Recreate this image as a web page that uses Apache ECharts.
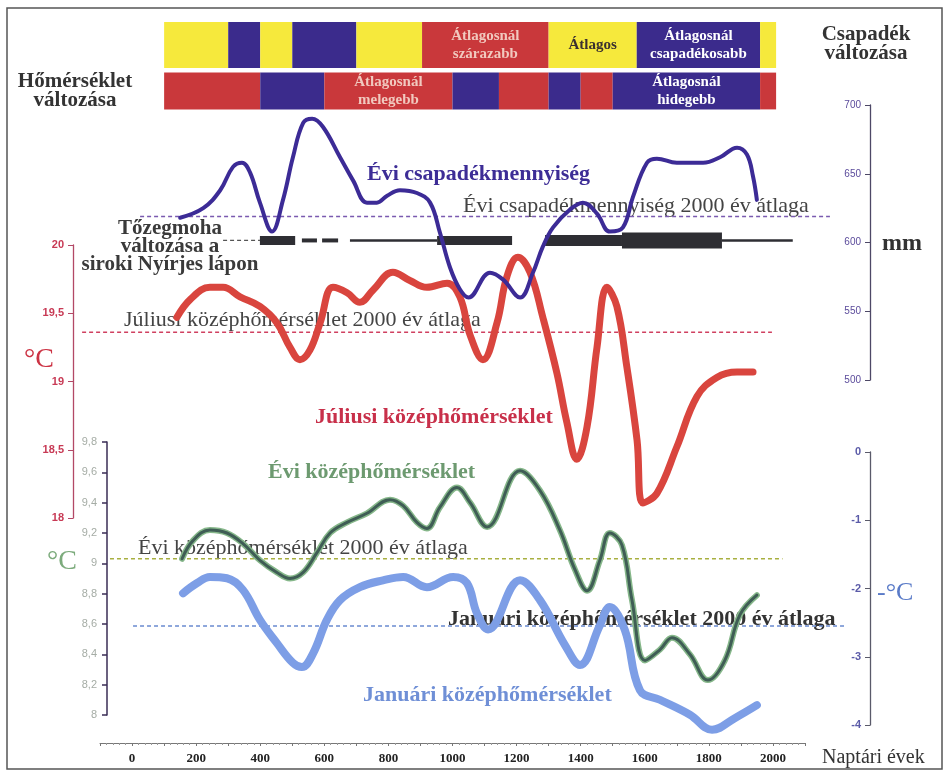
<!DOCTYPE html>
<html lang="hu">
<head>
<meta charset="utf-8">
<title>Éghajlatváltozás az elmúlt 2000 évben</title>
<script src="https://cdn.jsdelivr.net/npm/echarts@6/dist/echarts.min.js"></script>
<style>
  html, body { margin: 0; padding: 0; background: #fff; }
  #main { width: 949px; height: 776px; }
</style>
</head>
<body>
<div id="main"></div>
<script>
// ---- adatok (leolvasva az ábráról) ----
var yearTicks = [0, 200, 400, 600, 800, 1000, 1200, 1400, 1600, 1800, 2000];

// évi csapadékmennyiség (mm)
var precipYears = [150, 222, 275, 315, 343, 368, 399, 437, 471, 502, 534, 562, 596, 649, 690, 733, 764, 796, 836, 889,
  930, 961, 992, 1023, 1050, 1117, 1158, 1211, 1251, 1282, 1314, 1367, 1407, 1451, 1491, 1532, 1563, 1607, 1638, 1700,
  1782, 1835, 1888, 1919, 1938, 1950];
var precipMm = [618, 625, 638, 655, 658, 651, 629, 608, 631, 662, 687, 690, 684, 662, 645, 629, 629, 634, 638, 636,
  629, 607, 582, 566, 560, 578, 573, 560, 578, 597, 611, 624, 629, 621, 608, 611, 633, 658, 661, 658,
  658, 662, 669, 664, 648, 631];
var precipAvg = 619;
var precipAvgSpan = [25, 2178];

// júliusi középhőmérséklet (°C)
var julyYears = [140, 181, 243, 284, 337, 399, 452, 493, 524, 555, 587, 627, 671, 711, 752, 814, 867, 920, 983, 1023,
  1055, 1095, 1139, 1170, 1204, 1242, 1282, 1326, 1357, 1388, 1420, 1451, 1482, 1513, 1544, 1576, 1594, 1638, 1700, 1763,
  1825, 1888, 1938];
var julyValues = [19.47, 19.6, 19.69, 19.69, 19.62, 19.55, 19.43, 19.25, 19.16, 19.23, 19.43, 19.69, 19.65, 19.58, 19.67, 19.8, 19.74, 19.69, 19.72, 19.62,
  19.34, 19.16, 19.43, 19.77, 19.91, 19.8, 19.47, 19.06, 18.7, 18.43, 18.67, 19.25, 19.69, 19.55, 19.11, 18.57, 18.11, 18.18, 18.52, 18.89,
  19.03, 19.07, 19.07];
var julyAvg = 19.36;
var julyAvgSpan = [-156, 1997];

// évi középhőmérséklet (°C)
var annualYears = [156, 190, 243, 296, 346, 399, 452, 493, 534, 577, 618, 671, 733, 805, 846, 889, 920, 961, 1014, 1055,
  1108, 1211, 1273, 1335, 1382, 1420, 1460, 1491, 1529, 1560, 1601, 1647, 1685, 1741, 1797, 1850, 1897, 1950];
var annualValues = [9.03, 9.15, 9.22, 9.2, 9.13, 9.02, 8.94, 8.9, 8.94, 9.07, 9.2, 9.27, 9.33, 9.42, 9.38, 9.27, 9.23, 9.37, 9.5, 9.4,
  9.24, 9.61, 9.48, 9.22, 8.96, 8.82, 9.02, 9.2, 9.12, 8.76, 8.36, 8.43, 8.51, 8.4, 8.23, 8.36, 8.66, 8.79];
var annualAvg = 9.03;
var annualAvgSpan = [-69, 2030];

// januári középhőmérséklet (°C)
var janYears = [159, 203, 243, 296, 346, 399, 452, 502, 530, 565, 608, 649, 711, 783, 846, 920, 1002, 1045, 1076, 1111,
  1211, 1273, 1351, 1398, 1460, 1491, 1538, 1585, 1647, 1741, 1810, 1881, 1950];
var janValues = [-2.07, -1.92, -1.83, -1.85, -2.02, -2.46, -2.8, -3.09, -3.15, -2.95, -2.46, -2.17, -1.98, -1.88, -1.83, -1.98, -1.83, -1.92, -2.36, -2.6,
  -1.88, -2.17, -2.83, -3.12, -2.54, -2.27, -2.61, -3.49, -3.63, -3.85, -4.07, -3.9, -3.71];
var janAvg = -2.55;
var janAvgSpan = [3, 2225];

// csapadék és hőmérséklet változása: [kezdet, vég, jelleg, felirat]
var precipBands = [
  [100, 300, 'atlag', ''],
  [300, 400, 'nedves', ''],
  [400, 500, 'atlag', ''],
  [500, 700, 'nedves', ''],
  [700, 905, 'atlag', ''],
  [905, 1300, 'szaraz', 'Átlagosnál\nszárazabb'],
  [1300, 1575, 'atlag', 'Átlagos'],
  [1575, 1960, 'nedves', 'Átlagosnál\ncsapadékosabb'],
  [1960, 2010, 'atlag', '']
];
var tempBands = [
  [100, 400, 'meleg', ''],
  [400, 600, 'hideg', ''],
  [600, 1000, 'meleg', 'Átlagosnál\nmelegebb'],
  [1000, 1145, 'hideg', ''],
  [1145, 1300, 'meleg', ''],
  [1300, 1400, 'hideg', ''],
  [1400, 1500, 'meleg', ''],
  [1500, 1960, 'hideg', 'Átlagosnál\nhidegebb'],
  [1960, 2010, 'meleg', '']
];

// tőzegmoha változása: [kezdet, vég, szint] (0 = jelmagyarázat vonal, 5 = legtöbb)
var mossSegments = [
  [284, 399, 0], [399, 509, 3], [530, 577, 2], [593, 643, 2], [680, 952, 1],
  [952, 1186, 3], [1289, 1529, 4], [1529, 1841, 5], [1841, 2062, 1]
];

// ---- rajz ----
var serif = '"Liberation Serif", "DejaVu Serif", serif';
var sans = '"Liberation Sans", Arial, sans-serif';
var X_MIN = -200, X_MAX = 2250;
var mossRowMm = 601.5;
var mossWidths = [1.3, 2.5, 4, 9, 11, 16];

var bandColors = { atlag: '#f6e93c', nedves: '#3b2b8c', hideg: '#3b2b8c', szaraz: '#c9383b', meleg: '#c9383b' };
var bandTextColors = { atlag: '#3a3030', nedves: '#ffffff', hideg: '#ffffff', szaraz: '#f1c9bf', meleg: '#f1c9bf' };

var bandItems = precipBands.map(function (b) { return [b[0], b[1], 1, b[2], b[3]]; })
  .concat(tempBands.map(function (b) { return [b[0], b[1], 0, b[2], b[3]]; }));

function pairs(xs, ys) {
  return xs.map(function (x, i) { return [x, ys[i]]; });
}
function comma(v) {
  return String(Math.round(v * 10) / 10).replace('.', ',');
}
function hiddenX(gi) {
  return { type: 'value', gridIndex: gi, min: X_MIN, max: X_MAX, show: false };
}

function renderBand(params, api) {
  var b = bandItems[params.dataIndex];
  var p0 = api.coord([b[0], b[2]]);
  var p1 = api.coord([b[1], b[2]]);
  var band = api.size([0, 1])[1];
  var h = b[2] === 1 ? band : band * 0.8;
  var r = { x: p0[0], y: p0[1] - h / 2, width: p1[0] - p0[0], height: h };
  return {
    type: 'group',
    children: [
      { type: 'rect', shape: r, style: { fill: bandColors[b[3]] } },
      { type: 'text', x: r.x + r.width / 2, y: p0[1],
        style: { text: b[4], font: 'bold 15px ' + serif, fill: bandTextColors[b[3]],
          align: 'center', verticalAlign: 'middle', lineHeight: 18 } }
    ]
  };
}

function renderMoss(params, api) {
  var s = mossSegments[params.dataIndex];
  var p0 = api.coord([s[0], mossRowMm]);
  var p1 = api.coord([s[1], mossRowMm]);
  if (s[2] === 0) {
    return { type: 'line', shape: { x1: p0[0], y1: p0[1], x2: p1[0], y2: p1[1] },
      style: { stroke: '#555', lineWidth: 1.3, lineDash: [4, 3] } };
  }
  var w = mossWidths[s[2]];
  return { type: 'rect', shape: { x: p0[0], y: p0[1] - w / 2, width: p1[0] - p0[0], height: w },
    style: { fill: '#2e2e33' } };
}

function avgLine(idx, span, value, color) {
  return {
    type: 'line', xAxisIndex: idx, yAxisIndex: idx, silent: true, clip: false,
    data: [[span[0], value], [span[1], value]], symbol: 'none', z: 3,
    lineStyle: { color: color, width: 1.5, type: [4, 3] }
  };
}

function curve(idx, xs, ys, color, width, z) {
  return {
    type: 'line', xAxisIndex: idx, yAxisIndex: idx, data: pairs(xs, ys), clip: false,
    symbol: 'none', smooth: 0.4, silent: true, z: z,
    lineStyle: { color: color, width: width, cap: 'round', join: 'round' }
  };
}

function label(x, y, text, font, fill, align, lh) {
  return {
    type: 'text', x: x, y: y, z: 1, silent: true,
    style: { text: text, font: font, fill: fill, align: align || 'left',
      verticalAlign: 'middle', lineHeight: lh || 22 }
  };
}

var chart = echarts.init(document.getElementById('main'));

var option = {
  animation: false,
  backgroundColor: '#ffffff',
  grid: [
    { left: 68, right: 96, top: 22, height: 92 },   // sávok
    { left: 68, right: 96, top: 105, height: 275 },  // csapadék
    { left: 68, right: 96, top: 245, height: 273 },  // július
    { left: 68, right: 96, top: 442, height: 273 },  // évi
    { left: 68, right: 96, top: 452, height: 273 },  // január
    { left: 100, right: 144, top: 700, height: 43 }  // naptári évek
  ],
  xAxis: [
    hiddenX(0), hiddenX(1), hiddenX(2), hiddenX(3), hiddenX(4),
    {
      type: 'value', gridIndex: 5, min: -100, max: 2100, interval: 100,
      axisLine: { onZero: false, lineStyle: { color: '#777', width: 1 } },
      axisTick: { length: 3, lineStyle: { color: '#777' } },
      minorTick: { show: true, splitNumber: 5, length: 2, lineStyle: { color: '#999' } },
      splitLine: { show: false },
      axisLabel: {
        margin: 9, fontFamily: serif, fontWeight: 'bold', fontSize: 13, color: '#222',
        formatter: function (v) { return yearTicks.indexOf(v) >= 0 ? String(v) : ''; }
      }
    }
  ],
  yAxis: [
    { type: 'category', gridIndex: 0, data: ['Hőmérséklet', 'Csapadék'], show: false },
    {
      type: 'value', gridIndex: 1, position: 'right', offset: 17, min: 500, max: 700, interval: 50,
      axisLine: { show: true, onZero: false, lineStyle: { color: '#4d4866', width: 1.3 } },
      axisTick: { show: true, inside: true, length: 5, lineStyle: { color: '#4d4866' } },
      axisLabel: { inside: true, margin: 9, color: '#5b4b9b', fontSize: 10, fontFamily: sans },
      splitLine: { show: false }
    },
    {
      type: 'value', gridIndex: 2, position: 'left', offset: -5, min: 18, max: 20, interval: 0.5,
      axisLine: { show: true, onZero: false, lineStyle: { color: '#b34866', width: 1.3 } },
      axisTick: { show: true, length: 5, lineStyle: { color: '#b34866' } },
      axisLabel: { margin: 9, color: '#c83a55', fontSize: 11, fontWeight: 'bold', fontFamily: sans, formatter: comma },
      splitLine: { show: false }
    },
    {
      type: 'value', gridIndex: 3, position: 'left', offset: -39, min: 8, max: 9.8, interval: 0.2,
      axisLine: { show: true, onZero: false, lineStyle: { color: '#3a2d55', width: 1.5 } },
      axisTick: { show: true, length: 5, lineStyle: { color: '#3a2d55', width: 1.5 } },
      axisLabel: { margin: 10, color: '#a5aca5', fontSize: 11, fontFamily: sans, formatter: comma },
      splitLine: { show: false }
    },
    {
      type: 'value', gridIndex: 4, position: 'right', offset: 17, min: -4, max: 0, interval: 1,
      axisLine: { show: true, onZero: false, lineStyle: { color: '#5a5a6a', width: 1.3 } },
      axisTick: { show: true, inside: true, length: 5, lineStyle: { color: '#5a5a6a' } },
      axisLabel: { inside: true, margin: 9, color: '#5b5ba8', fontSize: 11, fontWeight: 'bold', fontFamily: sans },
      splitLine: { show: false }
    },
    { type: 'value', gridIndex: 5, min: 0, max: 1, show: false }
  ],
  graphic: [
    { type: 'rect', z: 0, silent: true, shape: { x: 7, y: 8, width: 935, height: 761 },
      style: { fill: null, stroke: '#555', lineWidth: 1.5 } },
    label(866, 44, 'Csapadék\nváltozása', 'bold 21px ' + serif, '#333', 'center', 19),
    label(75, 91, 'Hőmérséklet\nváltozása', 'bold 21px ' + serif, '#333', 'center', 19),
    label(367, 174, 'Évi csapadékmennyiség', 'bold 22px ' + serif, '#3d2d96'),
    label(463, 206, 'Évi csapadékmennyiség 2000 év átlaga', '22px ' + serif, '#444'),
    label(170, 247, 'Tőzegmoha\nváltozása a\nsiroki Nyírjes lápon', 'bold 21px ' + serif, '#3a3a3a', 'center', 18),
    label(124, 320, 'Júliusi középhőmérséklet 2000 év átlaga', '22px ' + serif, '#444'),
    label(315, 417, 'Júliusi középhőmérséklet', 'bold 22px ' + serif, '#c8304a'),
    label(268, 472, 'Évi középhőmérséklet', 'bold 22px ' + serif, '#6d9a70'),
    label(138, 548, 'Évi középhőmérséklet 2000 év átlaga', '22px ' + serif, '#444'),
    label(448, 619, 'Januári középhőmérséklet 2000 év átlaga', 'bold 22px ' + serif, '#333'),
    label(363, 695, 'Januári középhőmérséklet', 'bold 22px ' + serif, '#6f8fd6'),
    label(24, 360, '°C', '28px ' + serif, '#cc3344'),
    label(47, 562, '°C', '28px ' + serif, '#7cab7c'),
    label(882, 244, 'mm', 'bold 24px ' + serif, '#333'),
    label(877, 593, '-°C', '26px ' + serif, '#5a7bc8'),
    label(822, 758, 'Naptári évek', '20px ' + serif, '#333')
  ],
  series: [
    {
      type: 'custom', xAxisIndex: 0, yAxisIndex: 0, silent: true, clip: false,
      renderItem: renderBand, encode: { x: [0, 1], y: 2 },
      data: bandItems.map(function (b) { return [b[0], b[1], b[2]]; })
    },
    {
      type: 'custom', xAxisIndex: 1, yAxisIndex: 1, silent: true, clip: false, z: 3,
      renderItem: renderMoss, encode: { x: [0, 1], y: 2 },
      data: mossSegments.map(function (s) { return [s[0], s[1], mossRowMm]; })
    },
    avgLine(1, precipAvgSpan, precipAvg, '#7a5ab0'),
    avgLine(2, julyAvgSpan, julyAvg, '#d04060'),
    avgLine(3, annualAvgSpan, annualAvg, '#a8b040'),
    avgLine(4, janAvgSpan, janAvg, '#6a8ad0'),
    curve(4, janYears, janValues, '#7d9ee6', 8, 4),
    curve(3, annualYears, annualValues, '#86b78a', 6, 5),
    curve(3, annualYears, annualValues, '#3f5d55', 3, 5),
    curve(2, julyYears, julyValues, '#d9453e', 7, 5),
    curve(1, precipYears, precipMm, '#3c2b96', 4, 6)
  ]
};

chart.setOption(option);
</script>
</body>
</html>
